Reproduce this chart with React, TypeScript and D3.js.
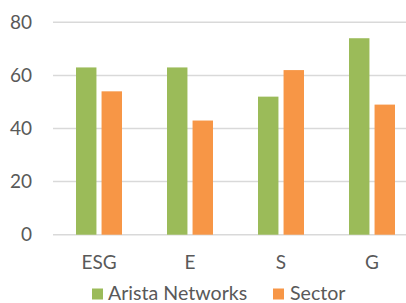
import React from "react";
import * as d3 from "d3";

const categories = ["ESG", "E", "S", "G"];
const seriesNames = ["Arista Networks", "Sector"];
const aristaValues = [63, 63, 52, 74];
const sectorValues = [54, 43, 62, 49];
const yTicks = [0, 20, 40, 60, 80];
const colors = ["#9BBB59", "#F79646"];

const W = 406;
const H = 303;
const FONT = "Lato, 'Open Sans', sans-serif";

export default function App() {
  const x0 = d3.scaleBand<string>().domain(categories).range([53.5, 417.5]).paddingInner(0).paddingOuter(0);
  const x1 = d3.scaleBand<string>().domain(seriesNames).range([22.5, 68.5]).paddingInner(0.2).paddingOuter(0);
  const y = d3.scaleLinear().domain([0, 80]).range([234.7, 22.3]);
  const series = [aristaValues, sectorValues];

  return (
    <svg width={W} height={H} style={{ position: "absolute", left: 0, top: 0, background: "#fff" }} fontFamily={FONT}>
      {yTicks.map((t) => (
        <g key={t}>
          <line x1={53} x2={W} y1={y(t)} y2={y(t)} stroke="#d9d9d9" strokeWidth={1.5} />
          <text x={32} y={y(t)} dy="0.35em" textAnchor="end" fontSize={19} fill="#595959">
            {t}
          </text>
        </g>
      ))}
      {categories.map((c, i) => (
        <g key={c} transform={`translate(${x0(c)},0)`}>
          {seriesNames.map((s, j) => (
            <rect
              key={s}
              x={x1(s)}
              y={y(series[j][i])}
              width={x1.bandwidth()}
              height={y(0) - y(series[j][i])}
              fill={colors[j]}
            />
          ))}
          <text x={x0.bandwidth() / 2} y={269} textAnchor="middle" fontSize={19} fill="#595959">
            {c}
          </text>
        </g>
      ))}
      <g>
        <rect x={92} y={288.5} width={11} height={11} fill={colors[0]} />
        <text x={108} y={300} fontSize={19.6} fill="#595959">{seriesNames[0]}</text>
        <rect x={273} y={288.5} width={11} height={11} fill={colors[1]} />
        <text x={290} y={300} fontSize={19.6} fill="#595959">{seriesNames[1]}</text>
      </g>
    </svg>
  );
}
